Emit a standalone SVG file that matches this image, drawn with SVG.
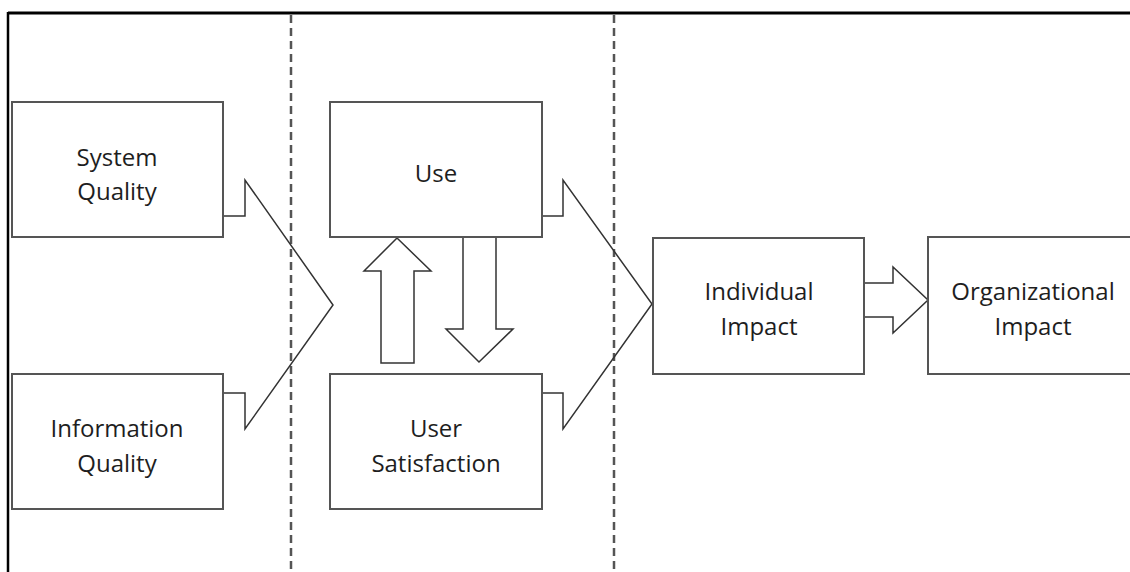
<svg xmlns="http://www.w3.org/2000/svg" width="1130" height="572" viewBox="0 0 1130 572">
<style>
.box{fill:#fff;stroke:#555;stroke-width:2}
.arr{fill:#fff;stroke:#333;stroke-width:1.5;stroke-linejoin:miter}
.open{fill:none;stroke:#333;stroke-width:1.5}
.dash{stroke:#555;stroke-width:2.5;stroke-dasharray:8 5;fill:none}
.lbl{font-family:"Open Sans",Lato,sans-serif;font-size:24px;fill:#1e1e1e;text-anchor:middle}
</style>
<rect x="0" y="0" width="1130" height="572" fill="#fff"/>
<g id="frame">
<line x1="8" y1="13" x2="1130" y2="13" stroke="#000" stroke-width="3"/>
<line x1="8" y1="12" x2="8" y2="572" stroke="#000" stroke-width="2.5"/>
</g>
<g id="dividers">
<line class="dash" x1="291" y1="15" x2="291" y2="572"/>
<line class="dash" x1="614" y1="15" x2="614" y2="572"/>
</g>
<g id="connectors">
<polyline class="open" points="223,216 245,216 245,180 333,305 245,429 245,393 223,393"/>
<polyline class="open" points="543,216 563,216 563,180 652,304 563,429 563,393 543,393"/>
<polygon class="arr" points="381,363 381,271 364,271 397,238 431,271 414,271 414,363"/>
<polygon class="arr" points="463,237 463,329 446,329 479,362 513,329 496,329 496,237"/>
<polygon class="arr" points="864,283 893,283 893,267 928,300 893,333 893,317 864,317"/>
</g>
<g id="system-quality">
<rect class="box" x="12" y="102" width="211" height="135"/>
<text class="lbl" x="117" y="166">System</text>
<text class="lbl" x="117" y="200">Quality</text>
</g>
<g id="information-quality">
<rect class="box" x="12" y="374" width="211" height="135"/>
<text class="lbl" x="117" y="437">Information</text>
<text class="lbl" x="117" y="472">Quality</text>
</g>
<g id="use">
<rect class="box" x="330" y="102" width="212" height="135"/>
<text class="lbl" x="436" y="182">Use</text>
</g>
<g id="user-satisfaction">
<rect class="box" x="330" y="374" width="212" height="135"/>
<text class="lbl" x="436" y="437">User</text>
<text class="lbl" x="436" y="472">Satisfaction</text>
</g>
<g id="individual-impact">
<rect class="box" x="653" y="238" width="211" height="136"/>
<text class="lbl" x="759" y="300">Individual</text>
<text class="lbl" x="759" y="335">Impact</text>
</g>
<g id="organizational-impact">
<rect class="box" x="928" y="237" width="230" height="137"/>
<text class="lbl" x="1033" y="300">Organizational</text>
<text class="lbl" x="1033" y="335">Impact</text>
</g>
</svg>
